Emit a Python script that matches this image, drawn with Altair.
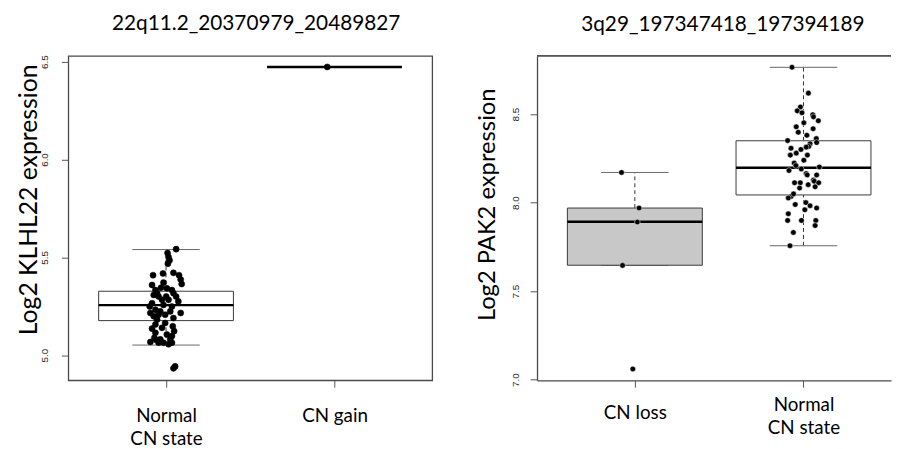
import altair as alt
import pandas as pd

# ---------------- Panel 1 : 22q11.2 (KLHL22) ----------------
p1_title = "22q11.2_20370979_20489827"
p1_ytitle = "Log2 KLHL22 expression"
p1_labels = [["Normal", "CN state"], ["CN gain"]]
p1_q1 = [5.177, 6.473]
p1_med = [5.256, 6.473]
p1_q3 = [5.327, 6.473]
p1_lo = [5.052, 6.473]
p1_hi = [5.540, 6.473]
p1_fill = ["#ffffff", "#ffffff"]
p1_yticks = [5.0, 5.5, 6.0, 6.5]
p1_ydomain = [4.872, 6.529]
p1_xdomain = [0.42, 2.58]

p1_normal_vals = [5.542, 5.522, 5.502, 5.485, 5.468, 5.409, 5.418, 5.421, 5.409, 5.387,
                  5.364, 5.359, 5.371, 5.345, 5.333, 5.342, 5.333, 5.317, 5.300, 5.300,
                  5.308, 5.300, 5.283, 5.283, 5.266, 5.249, 5.249, 5.232, 5.216, 5.224,
                  5.199, 5.224, 5.216, 5.182, 5.190, 5.157, 5.165, 5.148, 5.123, 5.115,
                  5.106, 5.098, 5.081, 5.081, 5.068, 5.078, 5.064, 5.064, 5.056, 5.064,
                  5.089, 4.933, 4.943, 5.317, 5.275, 5.257, 5.207, 5.207, 5.140, 5.136]
p1_normal_jit = [0.060, 0.009, 0.015, 0.021, 0.011, -0.077, -0.018, 0.044, 0.077, 0.087,
                 0.093, -0.083, -0.015, -0.030, -0.063, 0.005, 0.035, 0.044, 0.001, -0.044,
                 -0.073, 0.060, 0.015, -0.024, -0.083, -0.097, 0.035, -0.063, -0.093, -0.034,
                 -0.073, 0.025, 0.087, -0.053, 0.044, -0.063, -0.005, 0.040, 0.048, -0.063,
                 0.005, 0.035, -0.034, 0.025, -0.093, -0.058, -0.044, -0.015, 0.015, 0.035,
                 -0.069, 0.044, 0.054, -0.053, 0.073, -0.015, -0.044, -0.005, -0.024, -0.083]
p1_gain_vals = [6.473]
p1_gain_jit = [-0.043]

# ---------------- Panel 2 : 3q29 (PAK2) ----------------
p2_title = "3q29_197347418_197394189"
p2_ytitle = "Log2 PAK2  expression"
p2_labels = [["CN loss"], ["Normal", "CN state"]]
p2_q1 = [7.646, 8.043]
p2_med = [7.892, 8.196]
p2_q3 = [7.969, 8.349]
p2_lo = [7.646, 7.756]
p2_hi = [8.170, 8.764]
p2_fill = ["#c8c8c8", "#ffffff"]
p2_yticks = [7.0, 7.5, 8.0, 8.5]
p2_ydomain = [6.996, 8.828]
p2_xdomain = [0.42, 2.519]   # right edge of the frame falls off the picture

p2_loss_vals = [8.170, 7.969, 7.890, 7.645, 7.060]
p2_loss_jit = [-0.079, 0.025, 0.015, -0.073, -0.012]
p2_normal_vals = [8.764, 8.618, 8.540, 8.518, 8.507, 8.496, 8.484, 8.462, 8.451, 8.428,
                  8.397, 8.417, 8.380, 8.361, 8.350, 8.332, 8.317, 8.313, 8.339, 8.307,
                  8.300, 8.279, 8.268, 8.268, 8.239, 8.223, 8.209, 8.190, 8.181, 8.201,
                  8.164, 8.156, 8.156, 8.127, 8.120, 8.112, 8.112, 8.112, 8.101, 8.089,
                  8.082, 8.034, 8.026, 8.049, 8.000, 7.982, 7.989, 7.969, 7.959, 7.937,
                  7.899, 7.899, 7.899, 7.870, 7.831, 7.756]
p2_normal_jit = [-0.068, 0.029, -0.018, -0.037, -0.009, 0.055, 0.059, 0.088, 0.002, -0.043,
                 -0.031, 0.057, 0.020, 0.076, -0.094, 0.039, 0.031, 0.016, 0.078, -0.074,
                 -0.015, -0.043, -0.078, 0.023, 0.002, -0.055, -0.045, -0.013, -0.086, 0.094,
                 0.016, 0.022, 0.078, 0.059, 0.064, 0.090, -0.053, -0.019, 0.028, 0.069,
                 -0.023, -0.074, -0.090, -0.059, 0.014, 0.039, -0.049, 0.078, 0.008, -0.090,
                 -0.094, -0.012, 0.073, 0.069, -0.060, -0.080]

FONT = "Lato"
FRAME = "#4a4a4a"
FRAME_W = 1.3


def label_expr(labels):
    parts = []
    for lines in labels:
        if len(lines) == 1:
            parts.append("'" + lines[0] + "'")
        else:
            parts.append("[" + ", ".join("'" + s + "'" for s in lines) + "]")
    return "datum.value == 1 ? " + parts[0] + " : " + parts[1]


def panel(title, tdx, ytitle, ytitle_size, labels, q1, med, q3, lo, hi, fills, pts, ydomain,
          yticks, xdomain, width, title_x, title_y, ylab_pad, xlab_pad, pt_stroke, pt_size,
          full_frame):
    boxes = pd.DataFrame({"pos": [1, 2], "q1": q1, "med": med, "q3": q3,
                          "lo": lo, "hi": hi, "fill": fills})
    xscale = alt.Scale(domain=xdomain, nice=False, zero=False)
    yscale = alt.Scale(domain=ydomain, nice=False, zero=False)
    xaxis = alt.Axis(values=[1, 2], labelExpr=label_expr(labels), title=None, grid=False,
                     domain=not full_frame, domainColor=FRAME, domainWidth=FRAME_W,
                     tickSize=7, tickColor="#555555", tickWidth=1,
                     labelFont=FONT, labelFontSize=19, labelColor="black",
                     labelPadding=xlab_pad, labelLineHeight=23, labelFlush=False,
                     labelOverlap=False, labelBaseline="top")
    yaxis = alt.Axis(values=yticks, format=".1f", title=ytitle, grid=False,
                     domain=not full_frame, domainColor=FRAME, domainWidth=FRAME_W,
                     tickSize=7, tickColor="#555555", tickWidth=1,
                     labelAngle=-90, labelAlign="center", labelBaseline="bottom",
                     labelFont="Liberation Sans", labelFontSize=10, labelColor="#222222",
                     labelPadding=ylab_pad, labelFlush=False, labelOverlap=False,
                     titleFont=FONT, titleFontSize=ytitle_size, titleFontWeight="normal",
                     titleColor="black", titleX=title_x, titleY=title_y,
                     titleBaseline="alphabetic", titleAlign="center", titleAngle=270)

    base = alt.Chart(boxes)
    whisk_up = base.mark_rule(color="#333333", strokeWidth=1, strokeDash=[4, 3]).encode(
        x=alt.X("pos:Q", scale=xscale, axis=xaxis),
        y=alt.Y("q3:Q", scale=yscale, axis=yaxis), y2="hi:Q")
    whisk_dn = base.mark_rule(color="#333333", strokeWidth=1, strokeDash=[4, 3]).encode(
        x=alt.X("pos:Q", scale=xscale, axis=xaxis),
        y=alt.Y("lo:Q", scale=yscale, axis=yaxis), y2="q1:Q")
    caps = base.transform_calculate(c1="datum.pos - 0.2", c2="datum.pos + 0.2")
    cap_hi = caps.mark_rule(color="#666666", strokeWidth=1).encode(
        x=alt.X("c1:Q", scale=xscale, axis=xaxis), x2="c2:Q",
        y=alt.Y("hi:Q", scale=yscale, axis=yaxis))
    cap_lo = caps.mark_rule(color="#666666", strokeWidth=1).encode(
        x=alt.X("c1:Q", scale=xscale, axis=xaxis), x2="c2:Q",
        y=alt.Y("lo:Q", scale=yscale, axis=yaxis))
    bx = base.transform_calculate(b1="datum.pos - 0.4", b2="datum.pos + 0.4")
    rect = bx.mark_rect(stroke="#3a3a3a", strokeWidth=1).encode(
        x=alt.X("b1:Q", scale=xscale, axis=xaxis), x2="b2:Q",
        y=alt.Y("q1:Q", scale=yscale, axis=yaxis), y2="q3:Q",
        fill=alt.Fill("fill:N", scale=None))
    median = bx.mark_rule(color="black", strokeWidth=2.5).encode(
        x=alt.X("b1:Q", scale=xscale, axis=xaxis), x2="b2:Q",
        y=alt.Y("med:Q", scale=yscale, axis=yaxis))
    points = alt.Chart(pts).mark_circle(size=pt_size, color="black", opacity=1,
                                        stroke=pt_stroke, strokeWidth=0.5).encode(
        x=alt.X("x:Q", scale=xscale, axis=xaxis),
        y=alt.Y("val:Q", scale=yscale, axis=yaxis))
    layers = [whisk_up, whisk_dn, cap_hi, cap_lo, rect, median, points]
    if not full_frame:
        top = alt.Chart(boxes).mark_rule(color=FRAME, strokeWidth=FRAME_W).encode(
            x=alt.X(datum=xdomain[0], type="quantitative", scale=xscale, axis=xaxis),
            x2=alt.X2(datum=xdomain[1]),
            y=alt.Y(datum=ydomain[1], type="quantitative", scale=yscale, axis=yaxis))
        layers.append(top)
    view = (alt.ViewBackground(stroke=FRAME, strokeWidth=FRAME_W) if full_frame
            else alt.ViewBackground(stroke="transparent"))
    return alt.layer(*layers).properties(
        width=width, height=328, view=view,
        title=alt.TitleParams(title, font=FONT, fontSize=21, fontWeight="normal",
                              color="black", anchor="middle", dx=tdx, offset=21))


p1_pts = pd.DataFrame({
    "x": [1 + j for j in p1_normal_jit] + [2 + j for j in p1_gain_jit],
    "val": p1_normal_vals + p1_gain_vals})
p2_pts = pd.DataFrame({
    "x": [1 + j for j in p2_loss_jit] + [2 + j for j in p2_normal_jit],
    "val": p2_loss_vals + p2_normal_vals})

left = panel(p1_title, 6, p1_ytitle, 25, p1_labels, p1_q1, p1_med, p1_q3, p1_lo, p1_hi,
             p1_fill, p1_pts, p1_ydomain, p1_yticks, p1_xdomain, 368, -32, 145, 12, 20,
             "black", 38, True)
right = panel(p2_title, 9, p2_ytitle, 24, p2_labels, p2_q1, p2_med, p2_q3, p2_lo, p2_hi,
              p2_fill, p2_pts, p2_ydomain, p2_yticks, p2_xdomain, 358, -43, 150, 10,
              {"condition": {"test": "datum.value == 1", "value": 17}, "value": 9},
              "white", 32, False)

chart = alt.hconcat(left, right, spacing=42).properties(
    padding={"left": 8, "top": 2, "right": 0, "bottom": 0},
    background="white",
)

chart.save("out.html", embed_options={"renderer": "svg", "actions": False})
